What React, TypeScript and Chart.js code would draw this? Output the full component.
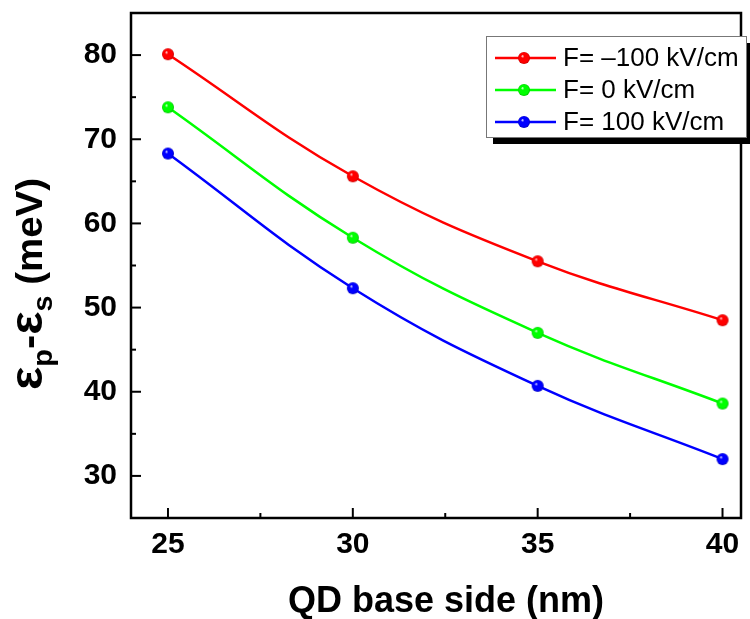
import React, { useEffect, useRef } from "react";
import { Chart, registerables } from "chart.js";

Chart.register(...registerables);

const xValues = [25, 30, 35, 40];
const seriesNeg100 = [80.1, 65.6, 55.5, 48.5];
const series0 = [73.8, 58.3, 47.0, 38.6];
const series100 = [68.3, 52.3, 40.7, 32.0];
const seriesLabels = ["F= \u2013100 kV/cm", "F= 0 kV/cm", "F= 100 kV/cm"];
const seriesColors = ["#ff0000", "#00ff00", "#0000ff"];
const seriesDark = ["#c80000", "#00c000", "#0000c0"];
const xTicks = [25, 27.5, 30, 32.5, 35, 37.5, 40];
const yTicks = [30, 35, 40, 45, 50, 55, 60, 65, 70, 75, 80];
const xMajorStep = 5;
const yMajorStep = 10;

const FONT = "'Liberation Sans', Arial, sans-serif";

function sphere(color: string, dark: string, r: number): HTMLCanvasElement {
  const c = document.createElement("canvas");
  const size = r * 2 + 2;
  c.width = size;
  c.height = size;
  const ctx = c.getContext("2d")!;
  const cx = size / 2;
  const cy = size / 2;
  const g = ctx.createRadialGradient(cx - r * 0.3, cy - r * 0.35, 0, cx, cy, r);
  g.addColorStop(0, "#ffffff");
  g.addColorStop(0.28, color);
  g.addColorStop(0.8, color);
  g.addColorStop(1, dark);
  ctx.fillStyle = g;
  ctx.beginPath();
  ctx.arc(cx, cy, r, 0, Math.PI * 2);
  ctx.fill();
  return c;
}

export default function App() {
  const ref = useRef<HTMLCanvasElement>(null);
  useEffect(() => {
    document.body.style.margin = "0";
    const canvas = ref.current!;
    const spheres = seriesColors.map((c, i) => sphere(c, seriesDark[i], 6));
    const allSeries = [seriesNeg100, series0, series100];

    const customPlugin = {
      id: "custom",
      beforeDatasetsDraw(chart: any) {
        const { ctx, chartArea, scales } = chart;
        ctx.save();
        ctx.strokeStyle = "#000";
        ctx.lineWidth = 2.5;
        ctx.strokeRect(chartArea.left, chartArea.top, chartArea.right - chartArea.left, chartArea.bottom - chartArea.top);
        ctx.lineWidth = 2;
        for (const v of xTicks) {
          const px = scales.x.getPixelForValue(v);
          const len = v % xMajorStep === 0 ? 10 : 5;
          ctx.beginPath();
          ctx.moveTo(px, chartArea.bottom);
          ctx.lineTo(px, chartArea.bottom - len);
          ctx.stroke();
        }
        for (const v of yTicks) {
          const py = scales.y.getPixelForValue(v);
          const len = v % yMajorStep === 0 ? 10 : 5;
          ctx.beginPath();
          ctx.moveTo(chartArea.left, py);
          ctx.lineTo(chartArea.left + len, py);
          ctx.stroke();
        }
        ctx.restore();
      },
      afterDraw(chart: any) {
        const { ctx } = chart;
        ctx.save();
        // X title
        ctx.fillStyle = "#000";
        ctx.font = `bold 36px ${FONT}`;
        ctx.textAlign = "center";
        ctx.textBaseline = "alphabetic";
        ctx.fillText("QD base side (nm)", 446, 612);

        // Y title with subscripts
        const segs = [
          { t: "\u03b5", font: `bold 46px ${FONT}`, dy: 0 },
          { t: "p", font: `bold 27px ${FONT}`, dy: 10 },
          { t: "-", font: `bold 40px ${FONT}`, dy: 0 },
          { t: "\u03b5", font: `bold 46px ${FONT}`, dy: 0 },
          { t: "s", font: `bold 27px ${FONT}`, dy: 10 },
          { t: " (meV)", font: `bold 36px ${FONT}`, dy: 0 },
        ];
        let total = 0;
        const widths: number[] = [];
        for (const s of segs) {
          ctx.font = s.font;
          const w = ctx.measureText(s.t).width;
          widths.push(w);
          total += w;
        }
        const targetLen = 212;
        const k = targetLen / total;
        ctx.translate(42, 284);
        ctx.rotate(-Math.PI / 2);
        ctx.scale(k, 1);
        ctx.textAlign = "left";
        let x = -total / 2;
        segs.forEach((s, i) => {
          ctx.font = s.font;
          ctx.fillText(s.t, x, s.dy);
          x += widths[i];
        });
        ctx.restore();

        // Legend
        ctx.save();
        const lx = 486, ly = 36, lw = 260, lh = 101;
        ctx.fillStyle = "#000";
        ctx.fillRect(lx + 7, ly + 7, lw, lh);
        ctx.fillStyle = "#fff";
        ctx.fillRect(lx, ly, lw, lh);
        ctx.strokeStyle = "#777";
        ctx.lineWidth = 1;
        ctx.strokeRect(lx + 0.5, ly + 0.5, lw, lh);
        const rows = [58, 90, 122];
        seriesLabels.forEach((lab, i) => {
          const y = rows[i];
          ctx.strokeStyle = seriesColors[i];
          ctx.lineWidth = 2.5;
          ctx.beginPath();
          ctx.moveTo(495, y);
          ctx.lineTo(556, y);
          ctx.stroke();
          ctx.drawImage(spheres[i], 524 - spheres[i].width / 2, y - spheres[i].height / 2);
          ctx.fillStyle = "#000";
          ctx.font = `26px ${FONT}`;
          ctx.textAlign = "left";
          ctx.textBaseline = "middle";
          ctx.fillText(lab, 563, y + 1);
        });
        ctx.restore();
      },
    };

    const chart = new Chart(canvas, {
      type: "line",
      data: {
        datasets: allSeries.map((s, i) => ({
          label: seriesLabels[i],
          data: xValues.map((x, j) => ({ x, y: s[j] })),
          borderColor: seriesColors[i],
          backgroundColor: seriesColors[i],
          borderWidth: 2.5,
          tension: 0.4,
          pointStyle: spheres[i] as any,
          pointRadius: 6,
          fill: false,
        })),
      },
      options: {
        responsive: false,
        animation: false,
        layout: { padding: { top: 13, right: 9, left: 0, bottom: 0 } },
        plugins: { legend: { display: false }, tooltip: { enabled: false } },
        scales: {
          x: {
            type: "linear",
            min: 24,
            max: 40.5,
            grid: { display: false, drawTicks: false },
            border: { display: false },
            afterBuildTicks: (s: any) => {
              s.ticks = xTicks.map((v) => ({ value: v }));
            },
            afterFit: (s: any) => {
              s.height = 101;
              s.paddingLeft = 0;
              s.paddingRight = 0;
            },
            ticks: {
              autoSkip: false,
              maxRotation: 0,
              padding: 9,
              color: "#000",
              font: { family: FONT, size: 30, weight: "bold" },
              callback: (v: any) => (Number(v) % xMajorStep === 0 ? String(v) : ""),
            },
          },
          y: {
            type: "linear",
            min: 25,
            max: 85,
            grid: { display: false, drawTicks: false },
            border: { display: false },
            afterBuildTicks: (s: any) => {
              s.ticks = yTicks.map((v) => ({ value: v }));
            },
            afterFit: (s: any) => {
              s.width = 131;
              s.paddingTop = 0;
              s.paddingBottom = 0;
            },
            ticks: {
              autoSkip: false,
              padding: 14,
              color: "#000",
              font: { family: FONT, size: 30, weight: "bold" },
              callback: (v: any) => (Number(v) % yMajorStep === 0 ? String(v) : ""),
            },
          },
        },
      },
      plugins: [customPlugin],
    } as any);
    return () => chart.destroy();
  }, []);
  return <canvas ref={ref} width={750} height={619} style={{ display: "block" }} />;
}
